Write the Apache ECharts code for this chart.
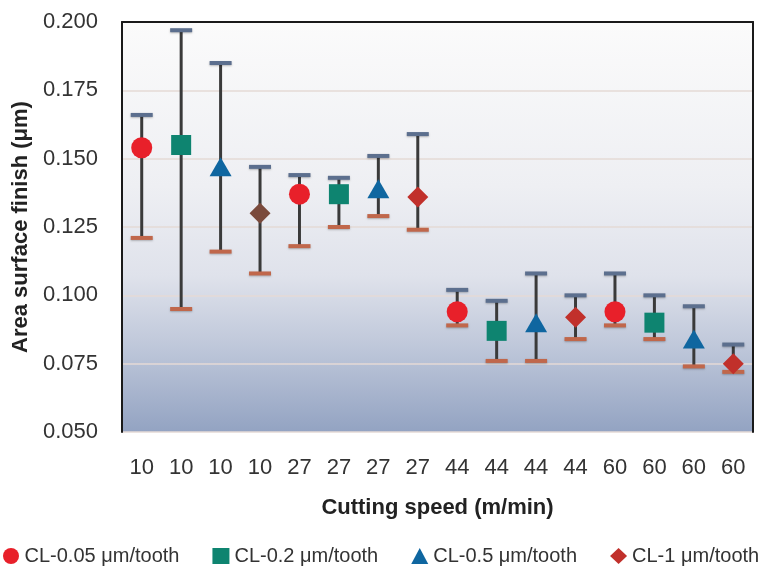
<!DOCTYPE html>
<html>
<head>
<meta charset="utf-8">
<script src="https://cdn.jsdelivr.net/npm/echarts@6/dist/echarts.min.js"></script>
<style>
  html, body { margin: 0; padding: 0; background: #fff; }
  #chart { width: 764px; height: 573px; }
</style>
</head>
<body>
<div id="chart"></div>
<script>
// cutting speed for each of the 16 runs
const speeds = ['10', '10', '10', '10', '27', '27', '27', '27', '44', '44', '44', '44', '60', '60', '60', '60']

// mean area surface finish (µm), one value per run, null where the run belongs to another chip load
const cl005 = [0.154, null, null, null, 0.137, null, null, null, 0.094, null, null, null, 0.094, null, null, null]
const cl02 = [null, 0.155, null, null, null, 0.137, null, null, null, 0.087, null, null, null, 0.090, null, null]
const cl05 = [null, null, 0.147, null, null, null, 0.139, null, null, null, 0.090, null, null, null, 0.084, null]
const cl1 = [null, null, null, 0.130, null, null, null, 0.136, null, null, null, 0.092, null, null, null, 0.075]

// error bar ends
const errHigh = [0.166, 0.197, 0.185, 0.147, 0.144, 0.143, 0.151, 0.159, 0.102, 0.098, 0.108, 0.100, 0.108, 0.100, 0.096, 0.082]
const errLow = [0.121, 0.095, 0.116, 0.108, 0.118, 0.125, 0.129, 0.124, 0.089, 0.076, 0.076, 0.084, 0.089, 0.084, 0.074, 0.072]

const yTicks = { min: 0.05, max: 0.2, step: 0.025 }

const chart = echarts.init(document.getElementById('chart'))

const toPoints = (arr) => arr
  .map((v, i) => (v === null ? null : [i, v]))
  .filter(p => p !== null)

const errData = speeds.map((s, i) => [i, errLow[i], errHigh[i]])

const font = 'Liberation Sans, Arial, sans-serif'

function renderErr (params, api) {
  const x = api.value(0)
  const lo = api.coord([x, api.value(1)])
  const hi = api.coord([x, api.value(2)])
  const half = 11
  return {
    type: 'group',
    children: [
      {
        type: 'line',
        shape: { x1: lo[0], y1: lo[1], x2: hi[0], y2: hi[1] },
        style: { stroke: '#3a3a3a', lineWidth: 3 }
      },
      {
        type: 'rect',
        shape: { x: hi[0] - half, y: hi[1] - 2, width: half * 2, height: 4 },
        style: { fill: '#5c6f8e', shadowBlur: 2, shadowColor: 'rgba(0,0,0,0.25)', shadowOffsetY: 1 }
      },
      {
        type: 'rect',
        shape: { x: lo[0] - half, y: lo[1] - 2, width: half * 2, height: 4 },
        style: { fill: '#c0674b', shadowBlur: 2, shadowColor: 'rgba(0,0,0,0.25)', shadowOffsetY: 1 }
      }
    ]
  }
}

chart.setOption({
  animation: false,
  textStyle: { fontFamily: font },
  grid: {
    left: 122,
    right: 11,
    top: 22,
    bottom: 141,
    show: true,
    borderWidth: 0,
    backgroundColor: {
      type: 'linear',
      x: 0, y: 0, x2: 0, y2: 1,
      colorStops: [
        { offset: 0, color: '#fbfbfb' },
        { offset: 0.4, color: '#eeeff3' },
        { offset: 0.62, color: '#dfe2eb' },
        { offset: 0.8, color: '#bdc6d9' },
        { offset: 1, color: '#93a3c2' }
      ]
    }
  },
  legend: {
    left: 3,
    top: 546,
    width: 1000,
    padding: 0,
    itemWidth: 17,
    itemHeight: 16,
    itemGap: 33,
    textStyle: { fontSize: 20, color: '#333', fontFamily: font },
    data: [
      { name: 'CL-0.05 μm/tooth', icon: 'circle' },
      { name: 'CL-0.2 μm/tooth', icon: 'rect' },
      { name: 'CL-0.5 μm/tooth', icon: 'triangle' },
      { name: 'CL-1 μm/tooth', icon: 'diamond' }
    ]
  },
  xAxis: [
    {
      type: 'category',
      data: speeds,
      name: 'Cutting speed (m/min)',
      nameLocation: 'middle',
      nameGap: 65,
      nameTextStyle: { fontSize: 22, fontWeight: 'bold', color: '#222' },
      axisLine: { show: false },
      axisTick: { show: false },
      axisLabel: { fontSize: 22, color: '#333', margin: 25, interval: 0 }
    },
    {
      type: 'category',
      data: speeds,
      position: 'top',
      axisLine: { show: true, lineStyle: { color: '#1a1a1a', width: 2 } },
      axisTick: { show: false },
      axisLabel: { show: false }
    }
  ],
  yAxis: [
    {
      type: 'value',
      min: yTicks.min,
      max: yTicks.max,
      interval: yTicks.step,
      name: 'Area surface finish (μm)',
      nameLocation: 'middle',
      nameGap: 87,
      nameTextStyle: { fontSize: 22, fontWeight: 'bold', color: '#222' },
      axisLine: { show: true, lineStyle: { color: '#1a1a1a', width: 2 } },
      axisTick: { show: false },
      axisLabel: {
        fontSize: 22,
        color: '#333',
        margin: 24,
        formatter: v => v.toFixed(3)
      },
      splitLine: { lineStyle: { color: '#e4dad6', width: 1.5 } }
    },
    {
      type: 'value',
      min: yTicks.min,
      max: yTicks.max,
      position: 'right',
      axisLine: { show: true, lineStyle: { color: '#1a1a1a', width: 2 } },
      axisTick: { show: false },
      axisLabel: { show: false },
      splitLine: { show: false }
    }
  ],
  series: [
    {
      type: 'custom',
      name: 'error',
      renderItem: renderErr,
      data: errData,
      z: 2,
      silent: true
    },
    {
      name: 'CL-0.05 μm/tooth',
      type: 'scatter',
      symbol: 'circle',
      symbolSize: 21,
      itemStyle: { color: '#e8202a', opacity: 1 },
      data: toPoints(cl005),
      z: 3
    },
    {
      name: 'CL-0.2 μm/tooth',
      type: 'scatter',
      symbol: 'rect',
      symbolSize: 20,
      itemStyle: { color: '#0e8470', opacity: 1 },
      data: toPoints(cl02),
      z: 3
    },
    {
      name: 'CL-0.5 μm/tooth',
      type: 'scatter',
      symbol: 'triangle',
      symbolSize: [22, 19],
      itemStyle: { color: '#0f66a0', opacity: 1 },
      data: toPoints(cl05),
      z: 3
    },
    {
      name: 'CL-1 μm/tooth',
      type: 'scatter',
      symbol: 'diamond',
      symbolSize: 21,
      itemStyle: { color: '#c1302b', opacity: 1 },
      // the first CL-1 marker is drawn darker brown in the figure
      data: toPoints(cl1).map(p => (p[0] === 3 ? { value: p, itemStyle: { color: '#7a4a3c' } } : p)),
      z: 3
    }
  ]
})
</script>
</body>
</html>
